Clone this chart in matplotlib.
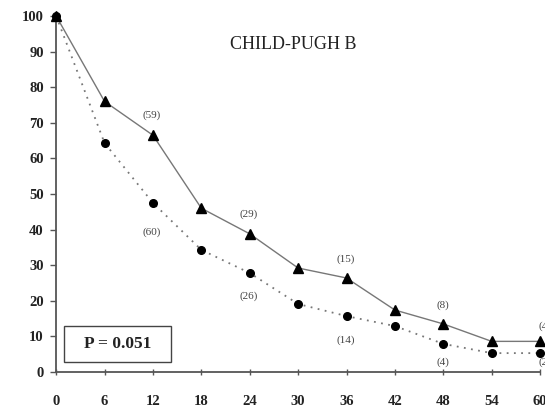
import numpy as np
import matplotlib.pyplot as plt
from matplotlib.patches import Rectangle

# survival data
months = [0, 6, 12, 18, 24, 30, 36, 42, 48, 54, 60]
surv_tri = [100, 76, 66.5, 46, 38.8, 29.2, 26.4, 17.4, 13.5, 8.6, 8.6]
surv_dot = [100, 64.3, 47.5, 34.3, 27.8, 19.1, 15.7, 12.9, 7.9, 5.3, 5.3]

# numbers at risk
risk_labels = ['(59)', '(60)', '(29)', '(26)', '(15)', '(14)', '(8)', '(4)', '(4)', '(2)']
risk_x = [11.8, 11.8, 23.9, 23.9, 35.9, 35.9, 47.9, 47.9, 60.6, 60.6]
risk_y = [72, 39.3, 44.4, 21.3, 31.7, 9.0, 18.8, 2.8, 12.9, 2.8]

plt.rcParams['font.family'] = ['Liberation Serif', 'DejaVu Serif']

fig = plt.figure(figsize=(5.45, 4.09), dpi=100)
ax = fig.add_axes([0.103, 0.0905, 0.888, 0.8705])

ax.plot(months, surv_tri, color='#777777', lw=1.0, ls='-', zorder=2, clip_on=False)
ax.plot(months, surv_tri, ls='none', marker='^', ms=7, color='black', zorder=3, clip_on=False)
ax.plot(months, surv_dot, color='#777777', lw=1.3, ls=(0, (1, 3)), zorder=2, clip_on=False)
ax.plot(months, surv_dot, ls='none', marker='o', ms=5.5, color='black', zorder=3, clip_on=False)

for lab, x, y in zip(risk_labels, risk_x, risk_y):
    ax.text(x, y, lab, fontsize=8, color='#444444', ha='center', va='center', clip_on=False)

ax.text(29.4, 92, 'CHILD-PUGH B', fontsize=13, color='#222222', ha='center', va='center')

ax.add_patch(Rectangle((1.0, 2.8), 13.2, 10.1, fill=False, ec='#444444', lw=1.0))
ax.text(7.6, 7.85, 'P = 0.051', fontsize=12.5, fontweight='bold', ha='center', va='center', color='#222222')

ax.set_xlim(0, 60)
ax.set_ylim(0, 100)
ax.set_xticks(months)
ax.set_yticks(np.arange(0, 101, 10))
for s in ['top', 'right']:
    ax.spines[s].set_visible(False)
for s in ['left', 'bottom']:
    ax.spines[s].set_color('#555555')
    ax.spines[s].set_linewidth(1.3)
ax.tick_params(axis='y', direction='out', length=4, width=1, color='#555555', pad=5, labelsize=10.5)
ax.tick_params(axis='x', direction='inout', length=5, width=1, color='#555555', pad=14, labelsize=10.5)
for lab in ax.get_xticklabels() + ax.get_yticklabels():
    lab.set_fontweight('bold')
    lab.set_color('#222222')

fig.savefig('out.png', dpi=100)
